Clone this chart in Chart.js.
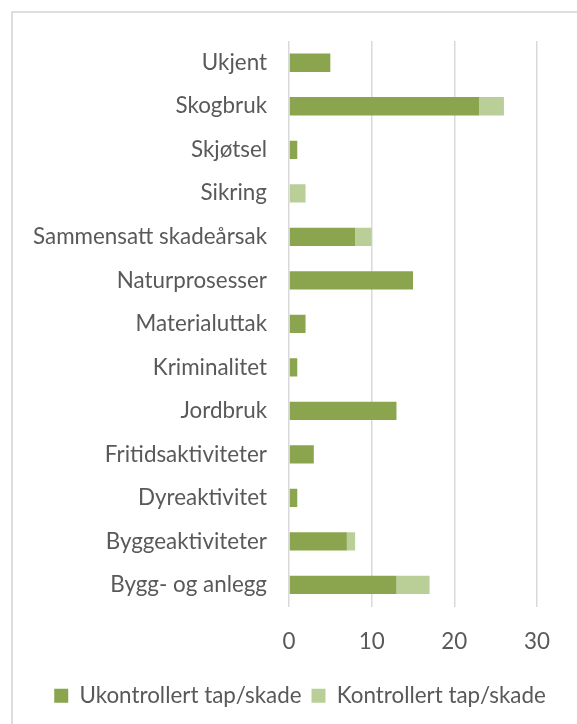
<!DOCTYPE html>
<html>
<head>
<meta charset="utf-8">
<script src="https://cdn.jsdelivr.net/npm/chart.js@4"></script>
<style>
  html, body { margin: 0; padding: 0; background: #fff; overflow: hidden; }
  #ramme {
    position: absolute; left: 11px; top: 11px;
    width: 620px; height: 760px;
    border: 2px solid #dedede;
  }
  #boks { position: absolute; left: 0; top: 0; width: 577px; height: 724px; }
</style>
</head>
<body>
<div id="ramme"></div>
<div id="boks"><canvas id="grafSkade"></canvas></div>
<script>
const kategorier = [
  "Ukjent", "Skogbruk", "Skjøtsel", "Sikring", "Sammensatt skadeårsak",
  "Naturprosesser", "Materialuttak", "Kriminalitet", "Jordbruk",
  "Fritidsaktiviteter", "Dyreaktivitet", "Byggeaktiviteter", "Bygg- og anlegg"
];
const ukontrollert = [5, 23, 1, 0, 8, 15, 2, 1, 13, 3, 1, 7, 13];
const kontrollert = [0, 3, 0, 2, 2, 0, 0, 0, 0, 0, 0, 1, 4];
const xTicks = [0, 10, 20, 30];

const tekstFarge = "#595959";
const font = "Lato, 'Liberation Sans', sans-serif";

new Chart(document.getElementById("grafSkade"), {
  type: "bar",
  data: {
    labels: kategorier,
    datasets: [
      {
        label: "Ukontrollert tap/skade",
        data: ukontrollert,
        backgroundColor: "#8aa54e",
        categoryPercentage: 1,
        barPercentage: 0.42
      },
      {
        label: "Kontrollert tap/skade",
        data: kontrollert,
        backgroundColor: "#bacf98",
        categoryPercentage: 1,
        barPercentage: 0.42
      }
    ]
  },
  options: {
    indexAxis: "y",
    responsive: true,
    maintainAspectRatio: false,
    animation: false,
    layout: { padding: { left: 23, right: 0, top: 41, bottom: 7 } },
    plugins: {
      tooltip: { enabled: false },
      legend: {
        position: "bottom",
        labels: {
          color: tekstFarge,
          font: { family: font, size: 22.4 },
          boxWidth: 14,
          boxHeight: 14,
          padding: 10
        }
      }
    },
    scales: {
      x: {
        stacked: true,
        min: 0,
        max: 30,
        afterBuildTicks: s => { s.ticks = xTicks.map(v => ({ value: v })); },
        afterFit: s => { s.height = 68; },
        grid: { color: "#d9d9d9", lineWidth: 1.5, drawTicks: false },
        border: { display: false },
        ticks: { color: tekstFarge, font: { family: font, size: 22.4 }, padding: 22 }
      },
      y: {
        stacked: true,
        afterFit: s => { s.width = 289 - 23; },
        grid: { display: false, drawTicks: false },
        border: { display: false },
        ticks: { color: tekstFarge, font: { family: font, size: 22.4 }, padding: 22, autoSkip: false }
      },
      // tom akse til høyre, holder plass slik at 30 havner ved x=537
      hoyre: {
        type: "category",
        position: "right",
        afterFit: s => { s.width = 40; },
        grid: { display: false },
        border: { display: false },
        ticks: { display: false }
      }
    }
  }
});
</script>
</body>
</html>
